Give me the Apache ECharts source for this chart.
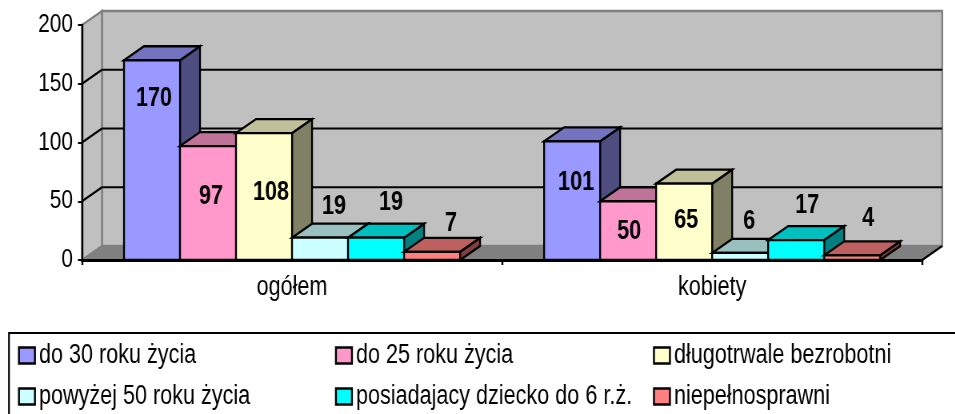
<!DOCTYPE html>
<html>
<head>
<meta charset="utf-8">
<title>chart</title>
<style>
  html, body { margin: 0; padding: 0; background: #fff; overflow: hidden; }
  /* the source text is narrower than any installed face, so the whole drawing is squeezed */
  #chart { width: 1194px; height: 414px; transform: scaleX(0.8); transform-origin: 0 0; }
</style>
<script src="https://cdn.jsdelivr.net/npm/echarts@6/dist/echarts.min.js"></script>
</head>
<body>
<div id="chart"></div>
<script>
const categories = ['ogółem', 'kobiety'];
const seriesNames = ['do 30 roku życia', 'do 25 roku życia', 'długotrwale bezrobotni', 'powyżej 50 roku życia', 'posiadajacy dziecko do 6 r.ż.', 'niepełnosprawni'];
const do30 = [170, 101];
const do25 = [97, 50];
const dlugotrwale = [108, 65];
const powyzej50 = [19, 6];
const zDzieckiem = [19, 17];
const niepelnosprawni = [7, 4];
const yTicks = [0, 50, 100, 150, 200];

const colors = ['#9999ff', '#ff99cc', '#ffffcc', '#ccffff', '#00ffff', '#ff8080'];
const topColors = ['#7373bf', '#bf7399', '#bfbf99', '#99bfbf', '#00bfbf', '#bf6060'];
const sideColors = ['#4d4d80', '#804d66', '#808066', '#668080', '#008080', '#804040'];

const squeeze = 0.8;
const sx = v => v / squeeze;

// the value labels sit where the source put them, not at a fixed spot on the bar
const labelNudges = [
  [[2, 38], [4, 41]],
  [[3, 51], [1, 30]],
  [[7, 59], [2, 37]],
  [[14, -31], [9, -31]],
  [[15, -35], [11, -34]],
  [[19, -28], [16, -37]]
];
const legendSpots = [[18, 342], [335, 342], [653, 342], [18, 383], [335, 383], [653, 383]];

const depthX = sx(20);
const depthY = -14;
const fontName = '"Liberation Sans", Arial, sans-serif';

function poly(points, fill, stroke, lineWidth) {
  return {type: 'polygon', shape: {points: points}, style: {fill: fill, stroke: stroke, lineWidth: lineWidth, lineJoin: 'miter'}};
};

function line(x1, y1, x2, y2, stroke, lineWidth) {
  return {type: 'line', shape: {x1: x1, y1: y1, x2: x2, y2: y2}, style: {stroke: stroke, lineWidth: lineWidth}};
};

function renderWalls(params, api) {
  let box = params.coordSys;
  let left = box.x, right = box.x + box.width, top = box.y, bottom = box.y + box.height;
  let children = [
    poly([[left + depthX, top + depthY], [right + depthX, top + depthY], [right + depthX, bottom + depthY], [left + depthX, bottom + depthY]], '#c0c0c0', '#808080', 2.4),
    poly([[left, top], [left + depthX, top + depthY], [left + depthX, bottom + depthY], [left, bottom]], '#c0c0c0', '#808080', 2.4),
    poly([[left, bottom], [left + depthX, bottom + depthY], [right + depthX, bottom + depthY], [right, bottom]], '#808080', '#808080', 1),
    line(right, bottom, right + depthX, bottom + depthY, '#000', 2.2)
  ];
  yTicks.forEach(tick => {
    if (tick == 0 || tick == 200) return;
    let y = api.coord([0, tick])[1];
    children.push(line(left, y, left + depthX, y + depthY, '#000', 2.2));
    children.push(line(left + depthX, y + depthY, right + depthX, y + depthY, '#000', 2));
  });
  return {type: 'group', children: children};
};

function renderBar(index) {
  return function(params, api) {
    let cat = api.value(0);
    let end = api.coord([cat, api.value(1)]);
    let base = api.coord([cat, 0]);
    let band = api.size([1, 0])[0];
    let barWidth = band * 0.8 / seriesNames.length;
    let x0 = end[0] + (index - seriesNames.length / 2) * barWidth;
    let x1 = x0 + barWidth;
    let yTop = end[1], yBase = base[1];
    let nudge = labelNudges[index][cat];
    return {type: 'group', children: [
      poly([[x1, yTop], [x1 + depthX, yTop + depthY], [x1 + depthX, yBase + depthY], [x1, yBase]], sideColors[index], '#000', 2.3),
      poly([[x0, yTop], [x0 + depthX, yTop + depthY], [x1 + depthX, yTop + depthY], [x1, yTop]], topColors[index], '#000', 2.3),
      poly([[x0, yTop], [x1, yTop], [x1, yBase], [x0, yBase]], colors[index], '#000', 2.3),
      {type: 'text', z2: 10, style: {
        x: (x0 + x1) / 2 + sx(nudge[0]), y: yTop + nudge[1], text: String(api.value(1)),
        fill: '#000', font: 'bold 27px ' + fontName, align: 'center', verticalAlign: 'middle'
      }}
    ]};
  };
};

const seriesValues = [do30, do25, dlugotrwale, powyzej50, zDzieckiem, niepelnosprawni];

const barSeries = seriesNames.map((name, i) => ({
  type: 'custom',
  name: name,
  z: 2 + i,
  clip: false,
  silent: true,
  itemStyle: {color: colors[i], borderColor: '#000', borderWidth: 2},
  renderItem: renderBar(i),
  encode: {x: 0, y: 1},
  data: seriesValues[i].map((v, c) => [c, v])
}));

const legends = seriesNames.map((name, i) => ({
  data: [name],
  left: sx(legendSpots[i][0]),
  top: legendSpots[i][1],
  padding: 0,
  itemWidth: sx(16),
  itemHeight: 16,
  itemGap: sx(7),
  icon: 'rect',
  selectedMode: false,
  itemStyle: {color: colors[i], borderColor: '#000', borderWidth: 2.4},
  textStyle: {color: '#000', fontFamily: fontName, fontSize: 27, padding: 0}
}));

let chart = echarts.init(document.getElementById('chart'), null, {renderer: 'canvas', width: 1194, height: 414});
chart.setOption({
  animation: false,
  backgroundColor: '#fff',
  grid: {left: sx(82), right: sx(33), top: 25, bottom: 154},
  xAxis: {
    type: 'category',
    data: categories,
    axisLine: {lineStyle: {color: '#000', width: 3}},
    axisTick: {show: true, length: 5, lineStyle: {color: '#000', width: 2.4}},
    axisLabel: {color: '#000', fontFamily: fontName, fontSize: 27, margin: 14},
    splitLine: {show: false}
  },
  yAxis: {
    type: 'value',
    min: 0,
    max: 200,
    interval: 50,
    axisLine: {show: true, lineStyle: {color: '#000', width: 2.4}},
    axisTick: {show: true, length: sx(4), lineStyle: {color: '#000', width: 2}},
    axisLabel: {color: '#000', fontFamily: fontName, fontSize: 26, margin: sx(9), padding: [3, 0, 0, 0]},
    splitLine: {show: false}
  },
  legend: legends,
  graphic: [{
    type: 'rect',
    shape: {x: sx(9), y: 333, width: 1300, height: 100},
    style: {fill: '#fff', stroke: '#000', lineWidth: 2.2},
    z: -10
  }],
  series: [{
    type: 'custom',
    name: 'walls',
    z: -1,
    clip: false,
    silent: true,
    renderItem: renderWalls,
    data: [[0, 0]]
  }].concat(barSeries)
});
</script>
</body>
</html>
